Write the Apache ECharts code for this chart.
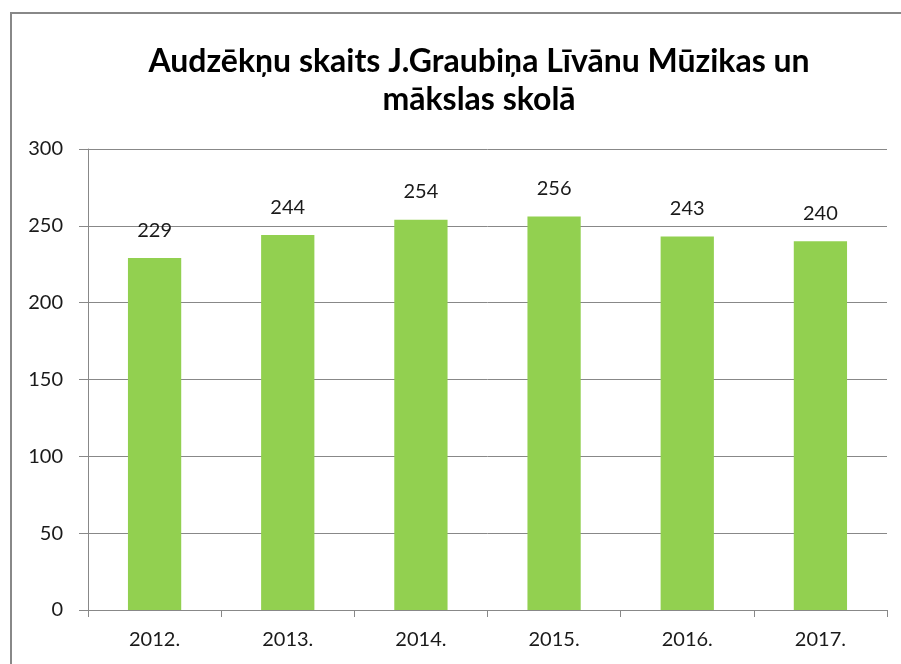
<!DOCTYPE html>
<html><head><meta charset="utf-8">
<script src="https://cdn.jsdelivr.net/npm/echarts@6/dist/echarts.min.js"></script>
<style>html,body{margin:0;padding:0;background:#fff}#c{width:901px;height:664px}</style>
</head><body><div id="c"></div>
<script>
const categories = ['2012.', '2013.', '2014.', '2015.', '2016.', '2017.'];
const values = [229, 244, 254, 256, 243, 240];
const titleLines = ['Audzēkņu skaits J.Graubiņa Līvānu Mūzikas un', 'mākslas skolā'];

const chart = echarts.init(document.getElementById('c'));
const titleFont = 'bold 32px Lato';
chart.setOption({
  animation: false,
  backgroundColor: '#fff',
  graphic: [{
    type: 'rect', shape: { x: 11, y: 13, width: 1000, height: 1000 },
    style: { fill: 'none', stroke: '#888', lineWidth: 2 }, silent: true
  }, {
    type: 'text', x: 479, y: 62,
    style: { text: titleLines[0], font: titleFont, fill: '#000', align: 'center', verticalAlign: 'middle' }
  }, {
    type: 'text', x: 479, y: 100,
    style: { text: titleLines[1], font: titleFont, fill: '#000', align: 'center', verticalAlign: 'middle' }
  }],
  grid: { left: 88, right: 14, top: 149, bottom: 54 },
  xAxis: {
    type: 'category', data: categories,
    axisLine: { lineStyle: { color: '#888', width: 1 } },
    axisTick: { show: true, length: 7, lineStyle: { color: '#888' } },
    axisLabel: { fontFamily: 'Lato', fontSize: 20, color: '#1a1a1a', margin: 20 }
  },
  yAxis: {
    type: 'value', min: 0, max: 300, interval: 50,
    axisLine: { show: true, lineStyle: { color: '#888', width: 1 } },
    axisTick: { show: true, length: 9, lineStyle: { color: '#888' } },
    splitLine: { lineStyle: { color: '#888', width: 1 } },
    axisLabel: { fontFamily: 'Lato', fontSize: 20, color: '#1a1a1a', margin: 25 }
  },
  series: [{
    type: 'bar', data: values, barWidth: '40%',
    itemStyle: { color: '#92D050' },
    label: { show: true, position: 'top', distance: 18, fontFamily: 'Lato', fontSize: 20, color: '#1a1a1a' }
  }]
});
</script></body></html>
